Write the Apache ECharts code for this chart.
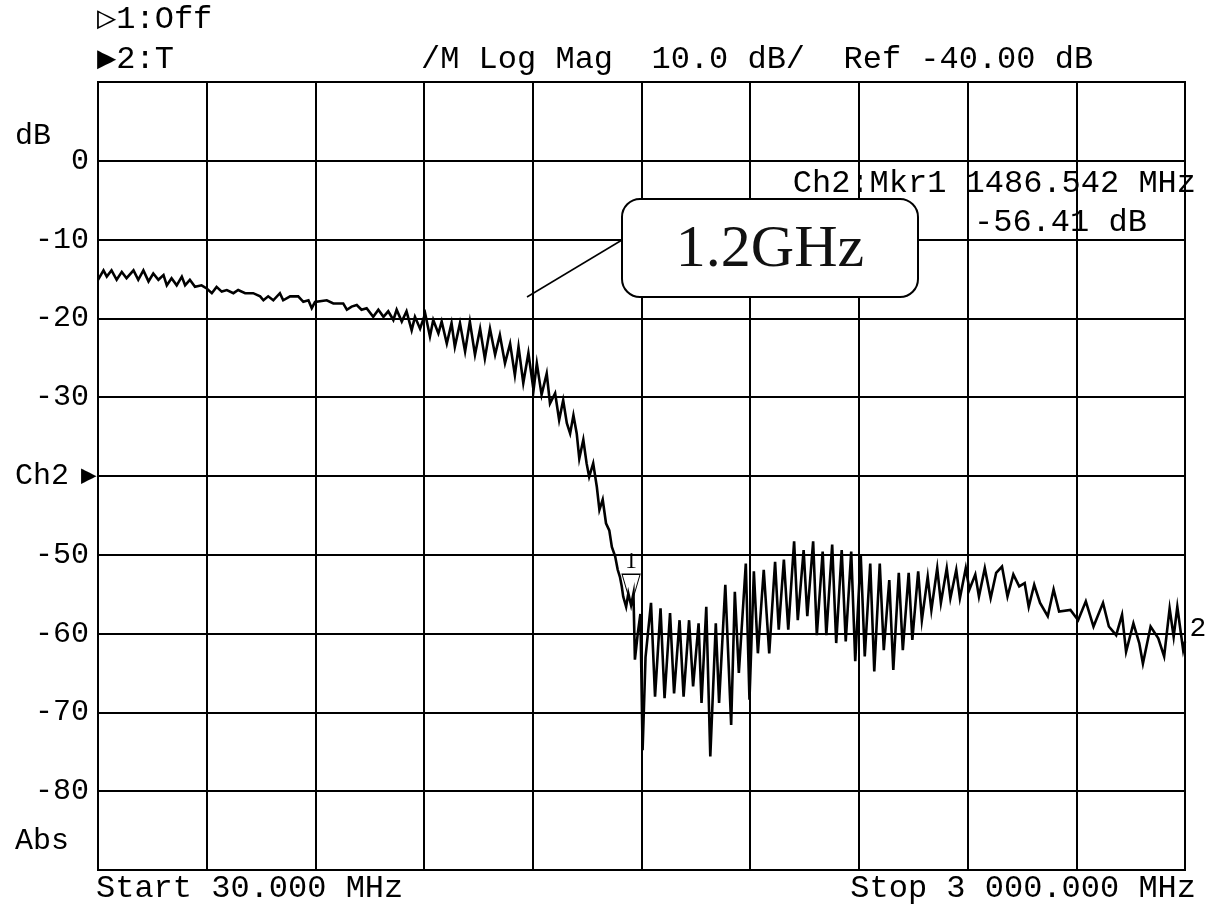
<!DOCTYPE html>
<html><head><meta charset="utf-8">
<script src="https://cdn.jsdelivr.net/npm/echarts@6/dist/echarts.min.js"></script>
<style>html,body{margin:0;padding:0;background:#fff}#c{width:1209px;height:913px}</style>
</head><body><div id="c"></div><script>
const freqMHz = [
  30,45,54,67,81,95,108,127,140,154,168,181,195,209,218,231,245,259,268,281,
  295,313,327,341,354,368,382,400,413,432,454,473,482,495,509,527,536,555,577,591,
  605,614,623,655,673,700,710,723,737,750,764,782,796,810,823,837,846,860,873,887,
  896,910,924,937,946,960,969,983,996,1005,1019,1033,1046,1060,1074,1087,1101,1115,1128,1142,
  1156,1169,1179,1192,1206,1220,1229,1242,1256,1265,1279,1290,1301,1311,1320,1329,1338,1345,1356,1365,
  1372,1383,1393,1400,1409,1418,1427,1434,1443,1450,1456,1461,1465,1473,1479,1486.5,1493,1497,1505,1512,
  1518,1526,1541,1552,1567,1578,1593,1604,1619,1630,1645,1656,1671,1679,1692,1703,1718,1727,1744,1760,
  1770,1781,1800,1810,1822,1833,1849,1864,1880,1890,1904,1916,1932,1942,1958,1968,1984,1994,2010,2020,
  2036,2047,2062,2073,2088,2099,2114,2125,2140,2151,2166,2177,2192,2203,2218,2229,2245,2255,2271,2281,
  2297,2307,2323,2333,2349,2359,2375,2385,2401,2411,2427,2437,2453,2469,2484,2500,2515,2531,2547,2562,
  2573,2588,2604,2625,2641,2656,2687,2708,2729,2750,2776,2792,2812,2828,2839,2859,2875,2885,2906,2927,
  2943,2958,2969,2979,2995,3000
];
const magDB = [
  -15.1,-13.9,-14.7,-13.9,-15.1,-14.1,-14.9,-13.9,-15.1,-13.9,-15.3,-14.3,-15.1,-14.5,-15.8,-14.9,-15.8,-14.7,-15.8,-15.1,
  -16.0,-15.8,-16.2,-16.8,-16.0,-16.6,-16.4,-16.8,-16.4,-16.8,-16.8,-17.2,-17.7,-17.2,-17.7,-16.8,-17.7,-17.2,-17.2,-17.9,
  -17.7,-18.7,-17.9,-17.7,-18.1,-18.1,-18.9,-18.5,-18.3,-18.9,-18.7,-19.8,-18.9,-19.8,-19.1,-20.2,-18.9,-20.4,-19.1,-21.5,
  -19.8,-21.3,-19.4,-22.3,-20.2,-21.9,-20.4,-23.2,-20.6,-23.6,-20.6,-24.2,-20.4,-24.6,-21.3,-25.1,-21.3,-24.6,-22.1,-25.7,
  -23.2,-27.2,-23.6,-28.2,-24.4,-29.1,-25.7,-29.7,-27.0,-30.8,-29.5,-32.9,-30.4,-33.3,-34.6,-32.3,-34.6,-37.8,-35.4,-38.4,
  -40.1,-38.4,-41.4,-44.3,-43.0,-46.0,-46.9,-49.0,-50.2,-51.9,-52.8,-54.0,-55.3,-56.6,-54.9,-56.4,-54.9,-63.3,-59.9,-57.5,
  -74.8,-63.0,-56.1,-68.0,-56.8,-68.2,-57.4,-67.6,-58.3,-68.0,-58.3,-66.7,-58.7,-68.8,-56.6,-75.6,-58.7,-68.8,-53.8,-71.6,
  -54.7,-65.0,-51.1,-68.4,-52.1,-62.5,-51.9,-62.5,-50.9,-59.5,-50.6,-59.5,-48.3,-58.3,-49.4,-57.8,-48.3,-60.2,-49.6,-60.2,
  -48.7,-61.2,-49.4,-61.0,-49.6,-63.5,-50.0,-62.9,-51.1,-64.8,-51.1,-62.1,-53.2,-64.6,-52.3,-62.1,-52.3,-60.8,-52.1,-58.3,
  -52.8,-57.0,-51.7,-56.1,-51.7,-55.5,-51.9,-55.5,-51.7,-54.4,-52.5,-55.3,-51.7,-55.5,-52.3,-51.5,-55.3,-52.5,-54.0,-53.6,
  -56.6,-53.8,-56.1,-57.8,-54.4,-57.2,-57.0,-58.3,-55.9,-59.1,-56.1,-59.1,-60.2,-57.6,-62.3,-58.7,-61.2,-63.8,-59.1,-60.6,
  -62.9,-56.8,-60.4,-56.6,-62.1,-61.0
];
// Axis scales (Log Mag 10 dB/div, Ref -40 dB; 30 to 3000 MHz, 10 divisions)
const yMin = -90, yMax = 10, yStep = 10, yRef = -40;
const xStart = 30, xStop = 3000, xDivisions = 10;
// Marker readouts
const marker1 = [1486.542, -56.41];
const marker2 = [3000, -59.4];
// Screen texts
const txtCh1 = '\u25B71:Off';
const txtCh2 = '\u25B62:T';
const txtHeader = '/M Log Mag  10.0 dB/  Ref -40.00 dB';
const txtMkr = 'Ch2:Mkr1 1486.542 MHz';
const txtMkrVal = '-56.41 dB';
const txtStart = 'Start 30.000 MHz';
const txtStop = 'Stop 3 000.000 MHz';
const txtCallout = '1.2GHz';

const MONO = '"Liberation Mono", "DejaVu Sans Mono", monospace';
const chart = echarts.init(document.getElementById('c'), null, {renderer: 'canvas'});
const data = freqMHz.map((f, i) => [f, magDB[i]]);

function T(text, x, y, size, align, extra) {
  return Object.assign({type: 'text', x: x, y: y, z: 50, style: {
    text: text, fill: '#000', font: size + 'px ' + MONO,
    align: align || 'left', verticalAlign: 'middle',
    textAlign: align || 'left', textVerticalAlign: 'middle'}}, extra || {});
}

chart.setOption({
  animation: false,
  backgroundColor: '#fff',
  grid: {left: 98, top: 82, width: 1087, height: 788, show: true, borderColor: '#000', borderWidth: 2, containLabel: false},
  xAxis: [
    {type: 'value', min: xStart, max: xStop, axisLine: {show: false}, axisTick: {show: false},
     axisLabel: {show: false}, splitLine: {show: false}},
    {type: 'value', min: 0, max: xDivisions, interval: 1, position: 'bottom', axisLine: {show: false},
     axisTick: {show: false}, axisLabel: {show: false},
     splitLine: {show: true, lineStyle: {color: '#000', width: 2}}}
  ],
  yAxis: {type: 'value', min: yMin, max: yMax, interval: yStep,
    axisLine: {show: false}, axisTick: {show: false},
    axisLabel: {margin: 9, color: '#000', fontSize: 30, fontFamily: MONO,
      formatter: v => (v === yMax || v === yMin || v === yRef) ? '' : String(v)},
    splitLine: {show: true, lineStyle: {color: '#000', width: 2}}},
  series: [{
    type: 'line', xAxisIndex: 0, data: data, showSymbol: false, symbol: 'none',
    lineStyle: {color: '#000', width: 2.6, join: 'miter'}, clip: false,
    markPoint: {
      silent: true,
      data: [
        {coord: marker1, symbol: 'triangle', symbolRotate: 180, symbolSize: [18, 31], symbolOffset: [0, -15.5],
         itemStyle: {color: 'rgba(255,255,255,0)', borderColor: '#000', borderWidth: 1.2},
         label: {show: true, formatter: '1', position: 'top', distance: 0, color: '#000',
                 fontSize: 24, fontFamily: '"Liberation Serif", serif'}},
        {coord: marker2, symbol: 'circle', symbolSize: 1,
         itemStyle: {color: 'rgba(0,0,0,0)'},
         label: {show: true, formatter: '2', position: 'right', distance: 4, color: '#000',
                 fontSize: 28, fontFamily: MONO}}
      ]
    }
  }],
  graphic: [
    T(txtCh1, 97, 20, 32),
    T(txtCh2, 97, 60, 32),
    T(txtHeader, 421, 60, 32),
    T('dB', 15, 136, 30),
    T('Ch2', 15, 476, 30),
    T('\u25B6', 81, 476, 26),
    T('Abs', 15, 841, 30),
    T(txtStart, 96, 889, 32),
    T(txtStop, 1196, 889, 32, 'right'),
    T(txtMkr, 1196, 184, 32, 'right'),
    T(txtMkrVal, 974, 223, 32),
    {type: 'line', z: 60, shape: {x1: 527, y1: 297, x2: 622, y2: 240}, style: {stroke: '#000', lineWidth: 1.5}},
    {type: 'rect', z: 61, shape: {x: 622, y: 199, width: 296, height: 98, r: 18}, style: {fill: '#fff', stroke: '#000', lineWidth: 2}},
    {type: 'text', z: 62, x: 770, y: 250, style: {text: txtCallout, fill: '#111', font: '60px "Liberation Serif", serif',
      align: 'center', verticalAlign: 'middle', textAlign: 'center', textVerticalAlign: 'middle'}}
  ]
});
</script></body></html>
